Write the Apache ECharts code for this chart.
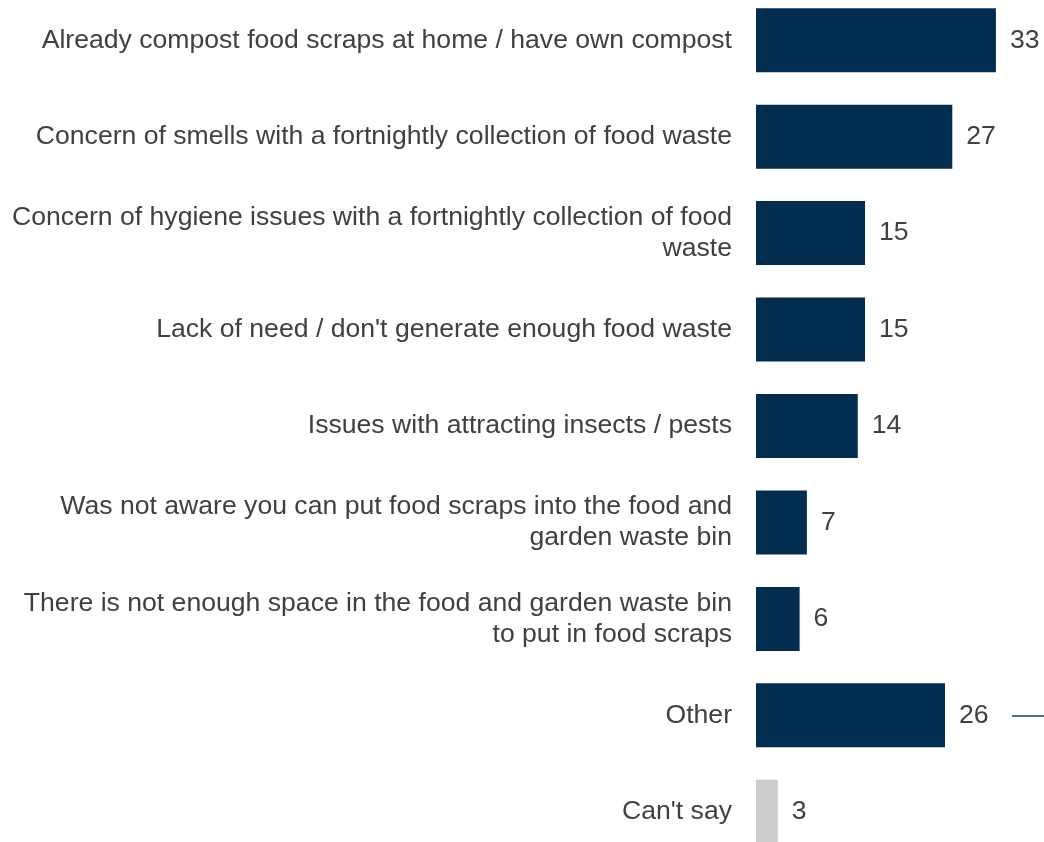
<!DOCTYPE html>
<html>
<head>
<meta charset="utf-8">
<script src="https://cdn.jsdelivr.net/npm/echarts@6/dist/echarts.min.js"></script>
<style>
  html, body { margin: 0; padding: 0; background: #ffffff; }
  #chart { width: 1044px; height: 842px; }
</style>
</head>
<body>
<div id="chart"></div>
<script>
// Reasons for not putting food scraps in the food and garden waste bin (%)
const categories = [
  "Already compost food scraps at home / have own compost",
  "Concern of smells with a fortnightly collection of food waste",
  "Concern of hygiene issues with a fortnightly collection of food\nwaste",
  "Lack of need / don't generate enough food waste",
  "Issues with attracting insects / pests",
  "Was not aware you can put food scraps into the food and\ngarden waste bin",
  "There is not enough space in the food and garden waste bin\nto put in food scraps",
  "Other",
  "Can't say"
];
const values = [33, 27, 15, 15, 14, 7, 6, 26, 3];
const mutedCategories = ["Can't say"];

const NAVY = '#022d4f';
const GREY = '#cdcccd';
const TEXT = '#404040';
const FONT = '"Liberation Sans", Arial, sans-serif';

const chart = echarts.init(document.getElementById('chart'));

chart.setOption({
  animation: false,
  grid: {
    left: 756, top: -8, width: 290.8, height: 868,
    containLabel: false,
    outerBoundsMode: 'none'
  },
  xAxis: {
    type: 'value', min: 0, max: 40,
    show: false
  },
  yAxis: {
    type: 'category',
    data: categories,
    inverse: true,
    axisLine: { show: false },
    axisTick: { show: false },
    splitLine: { show: false },
    axisLabel: {
      margin: 24,
      color: TEXT,
      fontFamily: FONT,
      fontSize: 26.6,
      lineHeight: 31,
      align: 'right'
    }
  },
  series: [{
    type: 'bar',
    barWidth: 64,
    data: values.map((v, i) => ({
      value: v,
      itemStyle: { color: mutedCategories.includes(categories[i]) ? GREY : NAVY }
    })),
    label: {
      show: true,
      position: 'right',
      distance: 14,
      color: TEXT,
      fontFamily: FONT,
      fontSize: 26.6
    },
    markLine: {
      silent: true,
      symbol: 'none',
      label: { show: false },
      lineStyle: { color: '#1f3f66', width: 1.5, type: 'solid' },
      data: [[
        { coord: [35.2, 'Other'] },
        { coord: [40, 'Other'] }
      ]]
    }
  }]
});
</script>
</body>
</html>
